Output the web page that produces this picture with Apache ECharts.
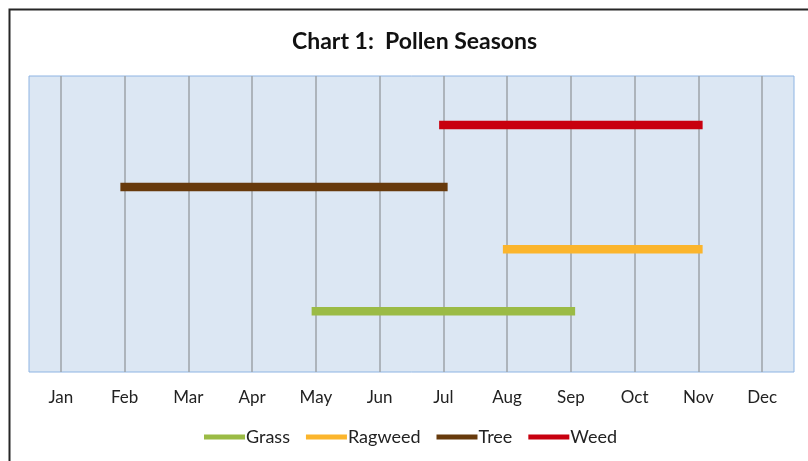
<!DOCTYPE html>
<html>
<head>
<meta charset="utf-8">
<script src="https://cdn.jsdelivr.net/npm/echarts@6/dist/echarts.min.js"></script>
<style>
  html, body { margin: 0; padding: 0; background: #fff; }
  #chart { width: 808px; height: 461px; }
</style>
</head>
<body>
<div id="chart"></div>
<script>
// months on the x axis (Jan = 1 ... Dec = 12)
const monthLabels = ['Jan', 'Feb', 'Mar', 'Apr', 'May', 'Jun', 'Jul', 'Aug', 'Sep', 'Oct', 'Nov', 'Dec']
const monthValues = [1, 2, 3, 4, 5, 6, 7, 8, 9, 10, 11, 12]

// pollen seasons
const seriesNames = ['Grass', 'Ragweed', 'Tree', 'Weed']
const seasonStart = [5, 8, 2, 7]   // May, Aug, Feb, Jul
const seasonEnd = [9, 11, 7, 11]   // Sep, Nov, Jul, Nov
const seasonRow = [1, 2, 3, 4]
const seriesColors = ['#9bbb45', '#fbb52c', '#673a0c', '#c8000f']

const font = 'Lato'

const chart = echarts.init(document.getElementById('chart'))

const series = seriesNames.map((name, i) => ({
  name: name,
  type: 'line',
  symbol: 'none',
  silent: true,
  color: seriesColors[i],
  lineStyle: { width: 8.5, cap: 'square', color: seriesColors[i] },
  data: [[seasonStart[i], seasonRow[i]], [seasonEnd[i], seasonRow[i]]]
}))

chart.setOption({
  animation: false,
  title: {
    text: 'Chart 1:  Pollen Seasons',
    left: 292,
    top: 30,
    padding: 0,
    textStyle: { fontFamily: font, fontSize: 23, fontWeight: 'bold', color: '#111' }
  },
  graphic: [{
    type: 'rect',
    shape: { x: 9.5, y: 9.5, width: 900, height: 600 },
    style: { fill: 'none', stroke: '#262626', lineWidth: 2 }
  }],
  legend: {
    data: seriesNames,
    left: 204,
    top: 428,
    padding: 0,
    icon: 'rect',
    itemWidth: 41,
    itemHeight: 5,
    itemGap: 16,
    textStyle: { fontFamily: font, fontSize: 18, color: '#222', padding: [0, 0, 0, -4] }
  },
  grid: {
    left: 29, right: 14, top: 76, bottom: 89,
    show: true,
    backgroundColor: '#dce7f3',
    borderColor: '#8eb4e3',
    borderWidth: 1
  },
  xAxis: {
    type: 'value',
    min: 0.5,
    max: 12.5,
    axisLine: { show: false },
    axisTick: { show: false, customValues: monthValues },
    splitLine: { show: true, lineStyle: { color: '#9ea3a8', width: 1.5 } },
    axisLabel: {
      customValues: monthValues,
      margin: 17,
      fontFamily: font,
      fontSize: 17,
      color: '#222',
      formatter: v => monthLabels[Math.round(v) - 1]
    }
  },
  yAxis: {
    type: 'value',
    min: 0.02,
    max: 4.79,
    show: false,
    splitLine: { show: false }
  },
  series: series
})
</script>
</body>
</html>
